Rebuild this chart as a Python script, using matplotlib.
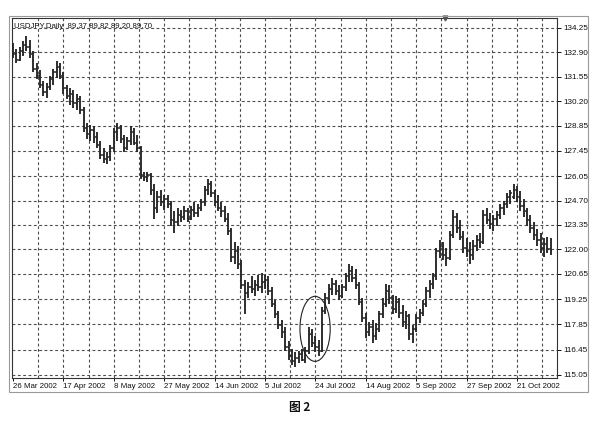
import numpy as np
import matplotlib
matplotlib.use("Agg")
import matplotlib.pyplot as plt
from matplotlib.patches import Ellipse, Rectangle

# ---------------- data ----------------
OPEN = [133.0, 132.8, 132.5, 133.0, 133.3, 133.2, 132.8, 132.0, 131.6, 131.1,
        130.7, 131.0, 131.4, 131.8, 132.1, 131.6, 130.9, 130.5, 130.6, 130.1,
        130.3, 129.7, 128.7, 128.4, 128.6, 128.2, 127.8, 127.2, 127.0, 127.1,
        127.6, 128.5, 128.7, 128.1, 127.6, 128.0, 128.5, 127.9, 127.6, 126.1,
        126.0, 126.1, 125.3, 124.3, 124.9, 124.6, 124.8, 124.5, 123.6, 123.5,
        123.9, 123.8, 124.1, 123.7, 124.2, 124.0, 124.3, 124.6, 125.3, 125.6,
        125.1, 124.6, 124.3, 124.1, 123.7, 123.0, 121.6, 121.9, 121.2, 120.0,
        119.6, 119.9, 119.8, 120.0, 119.9, 120.2, 120.3, 119.7, 119.0, 118.4,
        117.8, 117.4, 116.6, 116.1, 115.8, 116.0, 116.2, 115.9, 116.4, 117.3,
        116.8, 116.6, 116.4, 118.6, 119.3, 119.8, 120.1, 119.7, 119.4, 119.9,
        120.5, 120.8, 120.4, 120.0, 119.1, 118.2, 117.4, 117.7, 117.2, 117.6,
        118.4, 119.0, 119.7, 119.3, 118.7, 119.1, 118.5, 118.0, 118.3, 117.3,
        117.6, 118.2, 118.5, 119.0, 119.7, 120.1, 120.5, 121.9, 122.2, 121.7,
        121.5, 122.8, 123.8, 123.2, 122.7, 122.1, 121.9, 121.7, 122.2, 122.5,
        122.4, 123.9, 123.6, 123.4, 123.7, 123.9, 124.3, 124.5, 124.9, 124.9,
        125.3, 124.9, 124.4, 124.1, 123.6, 123.2, 122.8, 122.5, 122.1, 122.3,
        122.0]
HIGH = [133.4, 133.1, 133.2, 133.5, 133.8, 133.6, 133.0, 132.3, 131.9, 131.3,
        131.2, 131.6, 132.0, 132.4, 132.3, 131.8, 131.1, 130.9, 130.8, 130.6,
        130.5, 129.9, 129.0, 128.9, 128.8, 128.5, 128.0, 127.6, 127.4, 127.8,
        128.7, 129.0, 128.9, 128.3, 128.2, 128.8, 128.7, 128.3, 127.7, 126.3,
        126.3, 126.2, 125.6, 125.2, 125.3, 125.0, 125.0, 124.7, 124.1, 124.3,
        124.2, 124.4, 124.3, 124.4, 124.6, 124.5, 124.8, 125.5, 125.9, 125.8,
        125.3, 125.0, 124.6, 124.4, 124.0, 123.2, 122.4, 122.2, 121.4, 120.3,
        120.2, 120.5, 120.3, 120.6, 120.7, 120.6, 120.5, 119.9, 119.2, 118.6,
        118.1, 117.7, 116.9, 116.5, 116.3, 116.4, 116.5, 116.6, 117.7, 117.6,
        117.2, 117.0, 118.8, 119.6, 120.1, 120.4, 120.3, 120.0, 120.1, 120.7,
        121.2, 121.1, 120.9, 120.2, 119.3, 118.5, 118.0, 118.1, 117.9, 118.6,
        119.3, 120.1, 120.0, 119.5, 119.4, 119.3, 118.9, 118.6, 118.4, 117.8,
        118.4, 118.7, 119.2, 119.9, 120.3, 120.7, 122.1, 122.5, 122.4, 122.1,
        123.0, 124.2, 124.0, 123.6, 123.0, 122.6, 122.4, 122.5, 122.8, 122.9,
        124.2, 124.3, 124.0, 123.9, 124.1, 124.5, 124.7, 125.1, 125.3, 125.6,
        125.5, 125.2, 124.8, 124.3, 123.9, 123.5, 123.1, 122.9, 122.6, 122.7,
        122.6]
LOW = [132.6, 132.3, 132.4, 132.7, 133.0, 132.6, 131.8, 131.4, 130.9, 130.5,
       130.4, 130.8, 131.1, 131.5, 131.4, 130.6, 130.3, 130.0, 129.8, 129.7,
       129.5, 128.5, 128.1, 128.0, 127.9, 127.6, 127.0, 126.8, 126.7, 126.9,
       127.4, 128.0, 127.9, 127.4, 127.5, 127.8, 127.8, 127.4, 125.9, 125.8,
       125.7, 125.0, 123.7, 124.0, 124.4, 124.2, 124.3, 123.3, 122.9, 123.3,
       123.5, 123.6, 123.5, 123.6, 123.8, 123.8, 124.1, 124.4, 125.0, 124.9,
       124.4, 124.1, 123.8, 123.5, 122.8, 121.3, 121.2, 120.9, 119.8, 118.4,
       119.3, 119.6, 119.4, 119.7, 119.6, 119.8, 119.5, 118.8, 118.2, 117.6,
       117.1, 116.4, 115.9, 115.6, 115.5, 115.7, 115.8, 115.7, 116.2, 116.6,
       116.3, 116.1, 116.3, 118.4, 119.0, 119.5, 119.5, 119.2, 119.3, 119.7,
       120.2, 120.2, 119.8, 118.9, 118.0, 117.1, 117.2, 116.8, 117.0, 117.4,
       118.2, 118.8, 119.0, 118.4, 118.5, 118.2, 117.7, 117.6, 117.0, 116.8,
       117.4, 117.9, 118.3, 118.8, 119.3, 119.8, 120.3, 121.5, 121.4, 121.1,
       121.4, 122.6, 122.9, 122.5, 121.8, 121.6, 121.2, 121.4, 121.9, 122.1,
       122.3, 123.4, 123.1, 123.0, 123.3, 123.7, 123.9, 124.3, 124.5, 124.8,
       124.6, 124.1, 123.8, 123.3, 122.9, 122.5, 122.2, 121.8, 121.6, 121.8,
       121.7]
CLOSE = [132.8, 132.5, 133.0, 133.3, 133.2, 132.8, 132.0, 131.6, 131.1, 130.7,
         131.0, 131.4, 131.8, 132.1, 131.6, 130.9, 130.5, 130.6, 130.1, 130.3,
         129.7, 128.7, 128.4, 128.6, 128.2, 127.8, 127.2, 127.0, 127.1, 127.6,
         128.5, 128.7, 128.1, 127.6, 128.0, 128.5, 127.9, 127.6, 126.1, 126.0,
         126.1, 125.3, 124.3, 124.9, 124.6, 124.8, 124.5, 123.6, 123.5, 123.9,
         123.8, 124.1, 123.7, 124.2, 124.0, 124.3, 124.6, 125.3, 125.6, 125.1,
         124.6, 124.3, 124.1, 123.7, 123.0, 121.6, 121.9, 121.2, 120.0, 119.6,
         119.9, 119.8, 120.0, 119.9, 120.2, 120.3, 119.7, 119.0, 118.4, 117.8,
         117.4, 116.6, 116.1, 115.8, 116.0, 116.2, 115.9, 116.4, 117.3, 116.8,
         116.6, 116.4, 118.6, 119.3, 119.8, 120.1, 119.7, 119.4, 119.9, 120.5,
         120.8, 120.4, 120.0, 119.1, 118.2, 117.4, 117.7, 117.2, 117.6, 118.4,
         119.0, 119.7, 119.3, 118.7, 119.1, 118.5, 118.0, 118.3, 117.3, 117.6,
         118.2, 118.5, 119.0, 119.7, 120.1, 120.5, 121.9, 122.2, 121.7, 121.5,
         122.8, 123.8, 123.2, 122.7, 122.1, 121.9, 121.7, 122.2, 122.5, 122.4,
         123.9, 123.6, 123.4, 123.7, 123.9, 124.3, 124.5, 124.9, 125.1, 125.3,
         124.9, 124.4, 124.1, 123.6, 123.2, 122.8, 122.5, 122.1, 122.3, 122.0,
         121.9]

PRICE_TICKS = [134.25, 132.90, 131.55, 130.20, 128.85, 127.45, 126.05, 124.70,
               123.35, 122.00, 120.65, 119.25, 117.85, 116.45, 115.05]
DATE_TICK_BARS = [0, 15, 30, 45, 60, 75, 90, 105, 120, 135, 150]
DATE_LABELS = ["26 Mar 2002", "17 Apr 2002", "8 May 2002", "27 May 2002",
               "14 Jun 2002", "5 Jul 2002", "24 Jul 2002", "14 Aug 2002",
               "5 Sep 2002", "27 Sep 2002", "21 Oct 2002"]
HEADER = "USDJPY,Daily  89.37 89.82 89.20 89.70"
CAPTION = "图 2"
# circled region (bar index centre, price centre, width in bars, height in price)
CIRCLE = (89.9, 117.6, 9.0, 3.6)

# ---------------- drawing ----------------
W, H = 602, 428
fig = plt.figure(figsize=(W / 100, H / 100), dpi=100)
fig.patch.set_facecolor("white")
ax = fig.add_axes([12 / W, 1 - 378 / H, 545 / W, 360 / H])

BAR = "#262626"
GRID = "#505050"
TXT = "#111111"
x = np.arange(len(CLOSE))

ax.set_xlim(-0.3, 161.9)
ax.set_ylim(114.88, 134.80)

# grid
for yv in PRICE_TICKS:
    ax.axhline(yv, color=GRID, lw=0.8, ls=(0, (2.6, 2.2)), zorder=0)
for xv in np.arange(7.5, 161.0, 7.5):
    ax.axvline(xv, color=GRID, lw=0.8, ls=(0, (2.6, 2.2)), zorder=0)

# OHLC bars
ax.vlines(x, LOW, HIGH, color=BAR, lw=1.35, zorder=3)
ax.hlines(OPEN, x - 0.5, x, color=BAR, lw=1.1, zorder=3)
ax.hlines(CLOSE, x, x + 0.5, color=BAR, lw=1.1, zorder=3)

# ellipse annotation
cx, cy, cw, ch = CIRCLE
ax.add_patch(Ellipse((cx, cy), cw, ch, fill=False, ec="#222222", lw=0.8, zorder=4))

# axes styling
for s in ax.spines.values():
    s.set_color("#333333")
    s.set_linewidth(0.8)

ax.yaxis.tick_right()
ax.set_yticks(PRICE_TICKS)
ax.set_yticklabels([f"{v:.2f}" for v in PRICE_TICKS])
ax.tick_params(axis="y", length=3, width=0.7, pad=1.5, labelsize=5.9,
               colors=TXT)
ax.set_xticks(DATE_TICK_BARS)
ax.set_xticklabels(DATE_LABELS, ha="left")
ax.tick_params(axis="x", length=2, width=0.7, pad=1.5, labelsize=5.7,
               colors=TXT)
for lab in ax.get_xticklabels() + ax.get_yticklabels():
    lab.set_fontfamily("Liberation Sans")

# header text
ax.text(0.004, 0.985, HEADER, transform=ax.transAxes, ha="left", va="top",
        fontsize=5.6, family="Liberation Sans", color=TXT)

# chart-shift marker at the top
ax.plot([128.6], [134.80], marker="v", ms=3.5, color="#555555",
        clip_on=False, zorder=5)

# outer window frame
fig.add_artist(Rectangle((9 / W, 1 - 392 / H), 579 / W, 376 / H,
                         transform=fig.transFigure, fill=False,
                         ec="#9a9a9a", lw=0.8))

# caption
fig.text(300 / W, 1 - 408 / H, CAPTION, ha="center", va="center",
         fontsize=8.5, fontweight="bold",
         family=["Noto Sans CJK SC", "DejaVu Sans"], color="#111111")

fig.savefig("out.png", dpi=100, facecolor="white")
